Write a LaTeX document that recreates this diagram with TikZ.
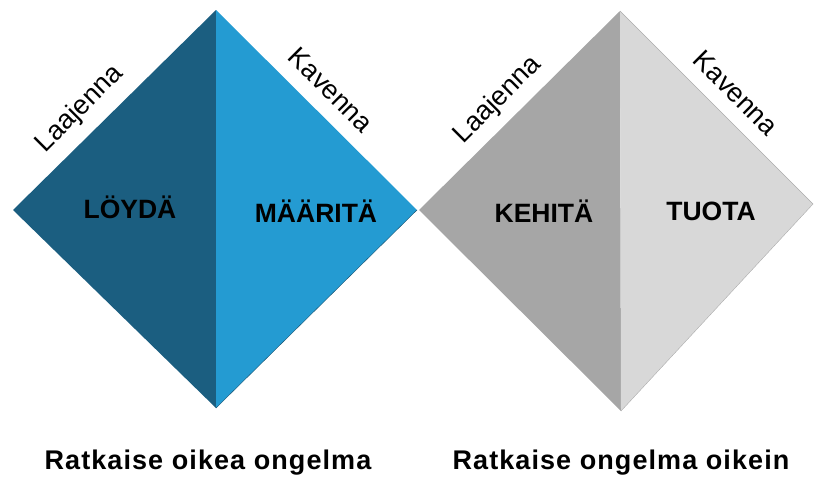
\documentclass[tikz,border=0pt]{standalone}
\usepackage{fontspec}
\setmainfont{Liberation Sans}
\definecolor{deepblue}{RGB}{27,94,128}
\definecolor{skyblue}{RGB}{36,155,210}
\definecolor{edgeblue}{RGB}{22,80,110}
\definecolor{darkgrey}{RGB}{166,166,166}
\definecolor{lightgrey}{RGB}{216,216,216}
\definecolor{edgegrey}{RGB}{172,172,172}

\begin{document}
\begin{tikzpicture}[x=1pt,y=-1pt,
    side/.style={font=\fontsize{27}{30}\selectfont},
    phase/.style={anchor=base,font=\fontsize{26.5}{30}\selectfont\bfseries},
    goal/.style={anchor=base,font=\fontsize{27}{30}\selectfont\bfseries\addfontfeature{LetterSpace=4}}]
    \useasboundingbox (0,0) rectangle (814,477);

    % Corners of the first diamond
    \coordinate (aL) at (13,210);
    \coordinate (aT) at (216,10);
    \coordinate (aR) at (417,210);
    \coordinate (aB) at (216,408);
    % Corners of the second diamond
    \coordinate (bL) at (419,210);
    \coordinate (bT) at (620,11);
    \coordinate (bR) at (813,204);
    \coordinate (bB) at (621,411);

    % Draw the blue diamond
    \fill[deepblue] (aL) -- (aT) -- (aB) -- cycle;
    \fill[skyblue] (aT) -- (aR) -- (aB) -- cycle;
    \draw[edgeblue, thin] (aR) -- (aB);

    % Draw the grey diamond
    \fill[darkgrey] (bL) -- (bT) -- (bB) -- cycle;
    \fill[lightgrey] (bT) -- (bR) -- (bB) -- cycle;
    \draw[edgegrey, thin] (bT) -- (bR) -- (bB);

    % Label the sides
    \node[side, rotate=45] (widen1) at (80,109) {Laajenna};
    \node[side, rotate=-45] (narrow1) at (331,90) {Kavenna};
    \node[side, rotate=45] (widen2) at (498,100) {Laajenna};
    \node[side, rotate=-45] (narrow2) at (736,93) {Kavenna};

    % Label the phases
    \node[phase] (find) at (130,218) {LÖYDÄ};
    \node[phase] (define) at (316,222) {MÄÄRITÄ};
    \node[phase] (develop) at (544,222) {KEHITÄ};
    \node[phase] (deliver) at (711,220) {TUOTA};

    % Goals under the diamonds
    \node[goal] (rightproblem) at (208,469) {Ratkaise oikea ongelma};
    \node[goal] (rightway) at (621,469) {Ratkaise ongelma oikein};
\end{tikzpicture}
\end{document}
